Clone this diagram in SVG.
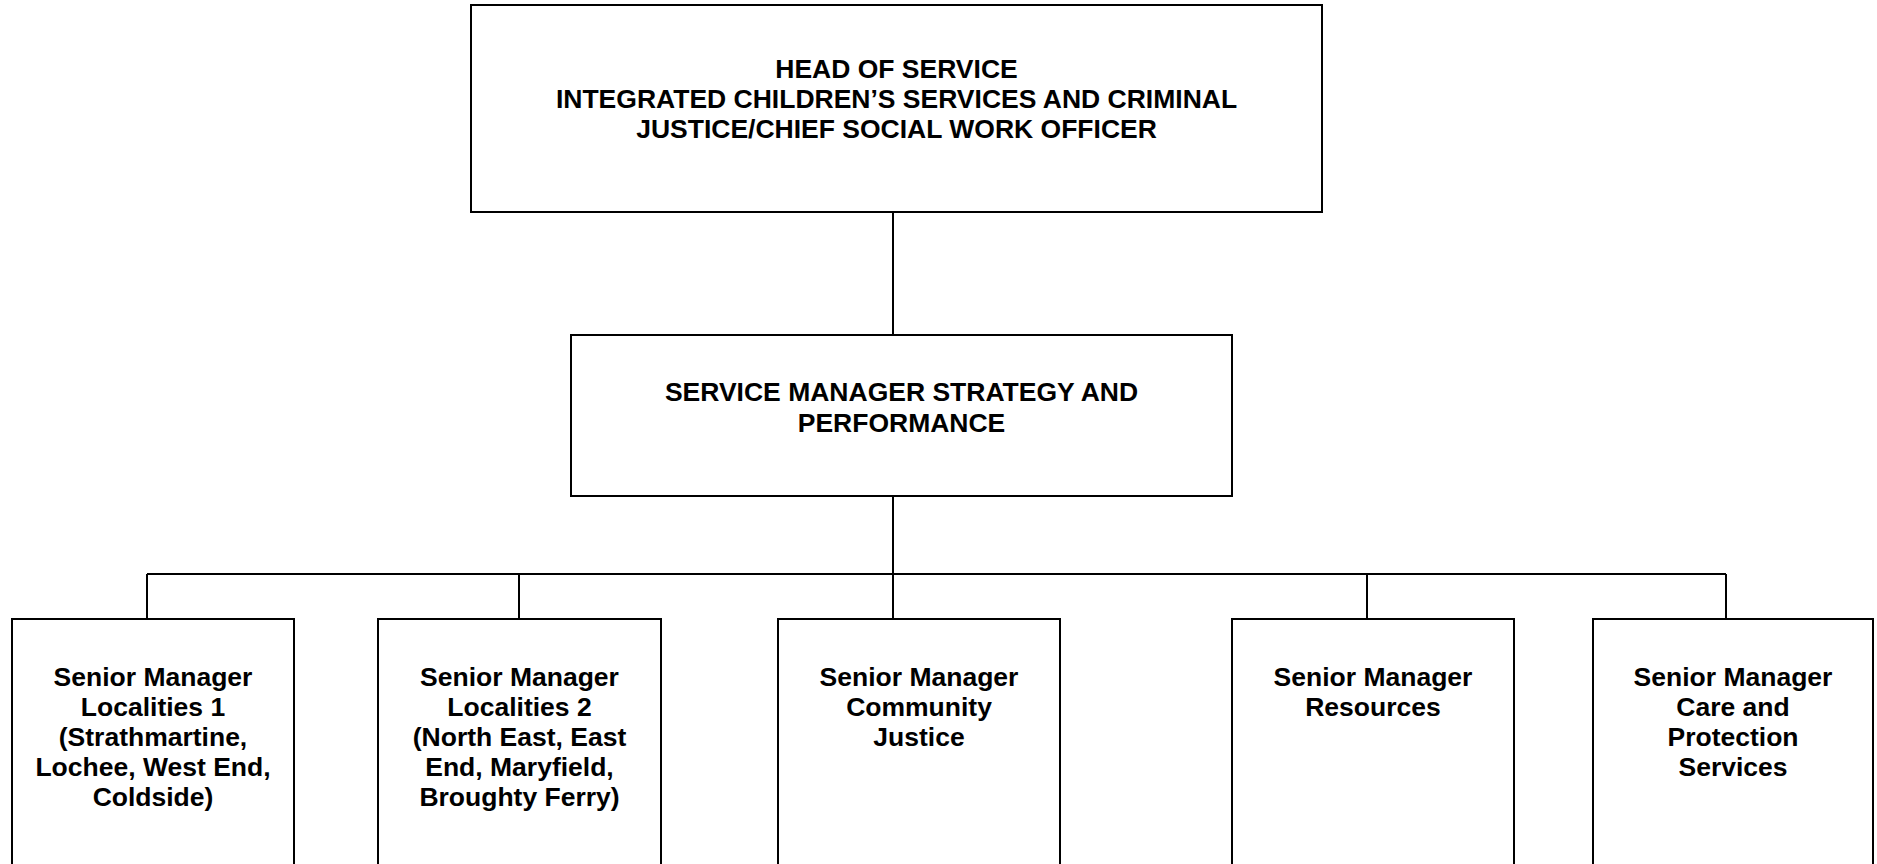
<svg xmlns="http://www.w3.org/2000/svg" width="1877" height="864" viewBox="0 0 1877 864">
<style>
.box{fill:#fff;stroke:#000;stroke-width:2}
.ln{stroke:#000;stroke-width:2;fill:none}
text{font-family:"Liberation Sans",Arial,sans-serif;font-weight:bold;font-size:26.5px;fill:#000;text-anchor:middle}
</style>
<rect width="1877" height="864" fill="#fff"/>
<g id="connectors">
<line class="ln" x1="893" y1="212" x2="893" y2="335"/>
<line class="ln" x1="893" y1="496" x2="893" y2="619"/>
<line class="ln" x1="147" y1="574" x2="1726" y2="574"/>
<line class="ln" x1="147" y1="574" x2="147" y2="619"/>
<line class="ln" x1="519" y1="574" x2="519" y2="619"/>
<line class="ln" x1="1367" y1="574" x2="1367" y2="619"/>
<line class="ln" x1="1726" y1="574" x2="1726" y2="619"/>
</g>
<g id="head">
<rect class="box" x="471" y="5" width="851" height="207"/>
<text x="896.5" y="77.5">HEAD OF SERVICE</text>
<text x="896.5" y="108">INTEGRATED CHILDREN’S SERVICES AND CRIMINAL</text>
<text x="896.5" y="138">JUSTICE/CHIEF SOCIAL WORK OFFICER</text>
</g>
<g id="strategy">
<rect class="box" x="571" y="335" width="661" height="161"/>
<text x="901.5" y="401">SERVICE MANAGER STRATEGY AND</text>
<text x="901.5" y="432">PERFORMANCE</text>
</g>
<g id="loc1">
<rect class="box" x="12" y="619" width="282" height="270"/>
<text x="153" y="686">Senior Manager</text>
<text x="153" y="716">Localities 1</text>
<text x="153" y="746">(Strathmartine,</text>
<text x="153" y="776">Lochee, West End,</text>
<text x="153" y="806">Coldside)</text>
</g>
<g id="loc2">
<rect class="box" x="378" y="619" width="283" height="270"/>
<text x="519.5" y="686">Senior Manager</text>
<text x="519.5" y="716">Localities 2</text>
<text x="519.5" y="746">(North East, East</text>
<text x="519.5" y="776">End, Maryfield,</text>
<text x="519.5" y="806">Broughty Ferry)</text>
</g>
<g id="justice">
<rect class="box" x="778" y="619" width="282" height="270"/>
<text x="919" y="686">Senior Manager</text>
<text x="919" y="716">Community</text>
<text x="919" y="746">Justice</text>
</g>
<g id="resources">
<rect class="box" x="1232" y="619" width="282" height="270"/>
<text x="1373" y="686">Senior Manager</text>
<text x="1373" y="716">Resources</text>
</g>
<g id="care">
<rect class="box" x="1593" y="619" width="280" height="270"/>
<text x="1733" y="686">Senior Manager</text>
<text x="1733" y="716">Care and</text>
<text x="1733" y="746">Protection</text>
<text x="1733" y="776">Services</text>
</g>
</svg>
